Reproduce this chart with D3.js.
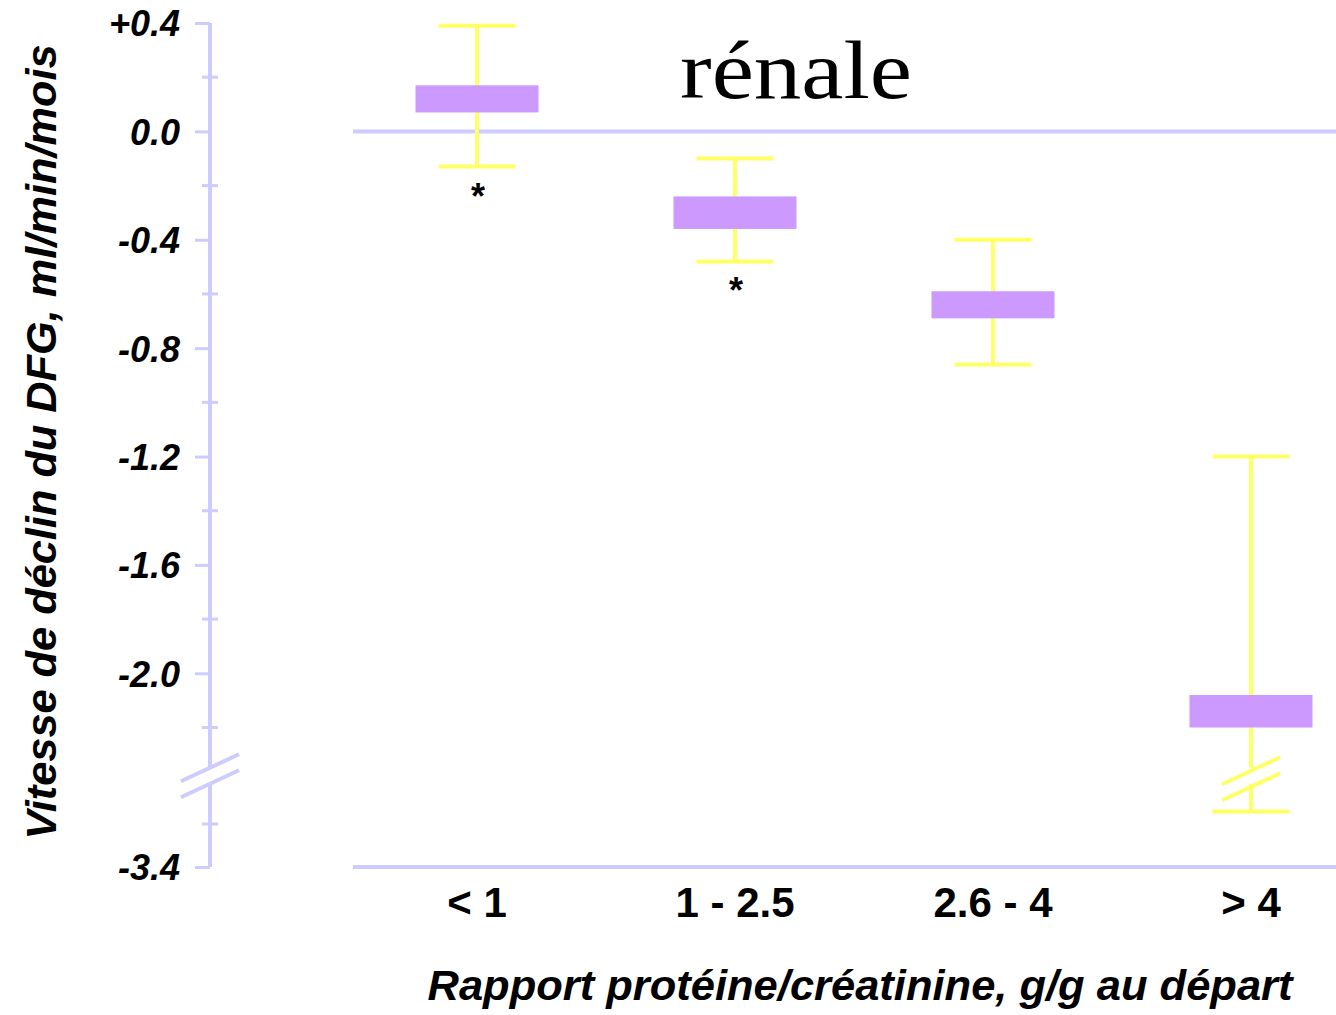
<!DOCTYPE html>
<html>
<head>
<meta charset="utf-8">
<style>
  body { margin: 0; background: #fff; }
  svg { display: block; }
  .tick-label { font-family: "Liberation Sans", Arial, sans-serif; font-weight: bold; font-style: italic; font-size: 36px; }
  .cat-label { font-family: "Liberation Sans", Arial, sans-serif; font-weight: bold; font-size: 42px; }
  .axis-title { font-family: "Liberation Sans", Arial, sans-serif; font-weight: bold; font-style: italic; font-size: 42px; }
</style>
</head>
<body>
<svg width="1336" height="1015"></svg>
<script src="https://d3js.org/d3.v7.min.js"></script>
<script>
// categories and values (ml/min/mois)
var categories = ["< 1", "1 - 2.5", "2.6 - 4", "> 4"];
var boxHigh = [0.17, -0.24, -0.59, -2.08];
var boxLow = [0.07, -0.36, -0.69, -2.20];
var whiskerHigh = [0.39, -0.10, -0.40, -1.20];
var whiskerLow = [-0.13, -0.48, -0.86, -3.07];
var stars = ["*", "*", "", ""];

var yTicks = [0.4, 0.0, -0.4, -0.8, -1.2, -1.6, -2.0, -3.4];
var yTickLabels = ["+0.4", "0.0", "-0.4", "-0.8", "-1.2", "-1.6", "-2.0", "-3.4"];
var yMinorTicks = [0.2, -0.2, -0.6, -1.0, -1.4, -1.8, -2.2, -3.2];
var axisBreak = -2.7;

var axisColor = "#ccccff", boxColor = "#cc99ff", barColor = "#ffff66";

var svg = d3.select("svg");

// broken scale: lower part compressed
var y = d3.scaleLinear().domain([-3.4, -3.2, -2.2, 0.4]).range([867, 824, 727.5, 23]);
var x = d3.scalePoint().domain(categories).range([348, 1380]).padding(0.5);
var axisX = 210, plotLeft = 353, plotRight = 1336;

// title fragment
svg.append("text")
    .attr("x", 680).attr("y", 98)
    .attr("textLength", 232).attr("lengthAdjust", "spacingAndGlyphs")
    .style("font-family", "'Liberation Serif', 'Times New Roman', serif")
    .style("font-size", "82px")
    .text("rénale");

// zero line and bottom line
svg.append("line").attr("x1", plotLeft).attr("x2", plotRight)
    .attr("y1", y(0)).attr("y2", y(0))
    .attr("stroke", axisColor).attr("stroke-width", 4);
svg.append("line").attr("x1", plotLeft).attr("x2", plotRight)
    .attr("y1", y(-3.4)).attr("y2", y(-3.4))
    .attr("stroke", axisColor).attr("stroke-width", 4);

// y axis
var yAxis = d3.axisLeft(y).tickValues(yTicks).tickSize(15).tickPadding(15)
    .tickFormat(function (d, i) { return yTickLabels[i]; });
var ga = svg.append("g").attr("transform", "translate(" + axisX + ",0)").call(yAxis);
ga.select(".domain").remove();
ga.selectAll(".tick line").attr("stroke", axisColor).attr("stroke-width", 3);
ga.selectAll(".tick text").attr("class", "tick-label").attr("fill", "#000").attr("dy", "0.36em");

// domain in two pieces around the break
var gapHalf = 8;
svg.append("line").attr("x1", axisX).attr("x2", axisX)
    .attr("y1", y(0.4)).attr("y2", y(axisBreak) - gapHalf)
    .attr("stroke", axisColor).attr("stroke-width", 4);
svg.append("line").attr("x1", axisX).attr("x2", axisX)
    .attr("y1", y(axisBreak) + gapHalf).attr("y2", y(-3.4))
    .attr("stroke", axisColor).attr("stroke-width", 4);

svg.selectAll(".minor").data(yMinorTicks).enter().append("line")
    .attr("class", "minor")
    .attr("x1", axisX - 8).attr("x2", axisX + 8)
    .attr("y1", function (d) { return y(d); }).attr("y2", function (d) { return y(d); })
    .attr("stroke", axisColor).attr("stroke-width", 3);

function breakMarks(cx, cy, color) {
    [-gapHalf, gapHalf].forEach(function (off) {
        svg.append("line")
            .attr("x1", cx - 29).attr("y1", cy + off + 13.5)
            .attr("x2", cx + 29).attr("y2", cy + off - 13.5)
            .attr("stroke", color).attr("stroke-width", 4);
    });
}
breakMarks(axisX, y(axisBreak), axisColor);

// error bars
var capHalf = 38.5, boxHalf = 61.5;
var g = svg.append("g");
categories.forEach(function (c, i) {
    var cx = x(c);
    var broken = whiskerLow[i] < axisBreak;
    if (broken) {
        g.append("line").attr("x1", cx).attr("x2", cx)
            .attr("y1", y(whiskerHigh[i])).attr("y2", y(axisBreak) - gapHalf)
            .attr("stroke", barColor).attr("stroke-width", 4);
        g.append("line").attr("x1", cx).attr("x2", cx)
            .attr("y1", y(axisBreak) + gapHalf).attr("y2", y(whiskerLow[i]))
            .attr("stroke", barColor).attr("stroke-width", 4);
    } else {
        g.append("line").attr("x1", cx).attr("x2", cx)
            .attr("y1", y(whiskerHigh[i])).attr("y2", y(whiskerLow[i]))
            .attr("stroke", barColor).attr("stroke-width", 4);
    }
    [whiskerHigh[i], whiskerLow[i]].forEach(function (v) {
        g.append("line").attr("x1", cx - capHalf).attr("x2", cx + capHalf)
            .attr("y1", y(v)).attr("y2", y(v))
            .attr("stroke", barColor).attr("stroke-width", 4);
    });
    g.append("rect")
        .attr("x", cx - boxHalf).attr("width", boxHalf * 2)
        .attr("y", y(boxHigh[i])).attr("height", y(boxLow[i]) - y(boxHigh[i]))
        .attr("fill", boxColor);
    if (stars[i]) {
        g.append("text").attr("x", cx + 1).attr("y", y(whiskerLow[i]) + 42)
            .attr("text-anchor", "middle")
            .style("font-family", "'Liberation Sans', Arial, sans-serif")
            .style("font-weight", "bold").style("font-size", "36px")
            .text(stars[i]);
    }
    g.append("text").attr("class", "cat-label")
        .attr("x", cx).attr("y", 917)
        .attr("text-anchor", "middle")
        .text(c);
});
breakMarks(x(categories[3]), y(axisBreak) + 3, barColor);

// axis titles
svg.append("text").attr("class", "axis-title")
    .attr("x", 860).attr("y", 1000).attr("text-anchor", "middle")
    .attr("textLength", 865).attr("lengthAdjust", "spacingAndGlyphs")
    .text("Rapport protéine/créatinine, g/g au départ");

svg.append("text").attr("class", "axis-title")
    .attr("transform", "translate(56,442) rotate(-90)")
    .attr("text-anchor", "middle")
    .attr("textLength", 795).attr("lengthAdjust", "spacingAndGlyphs")
    .text("Vitesse de déclin du DFG, ml/min/mois");
</script>
</body>
</html>
